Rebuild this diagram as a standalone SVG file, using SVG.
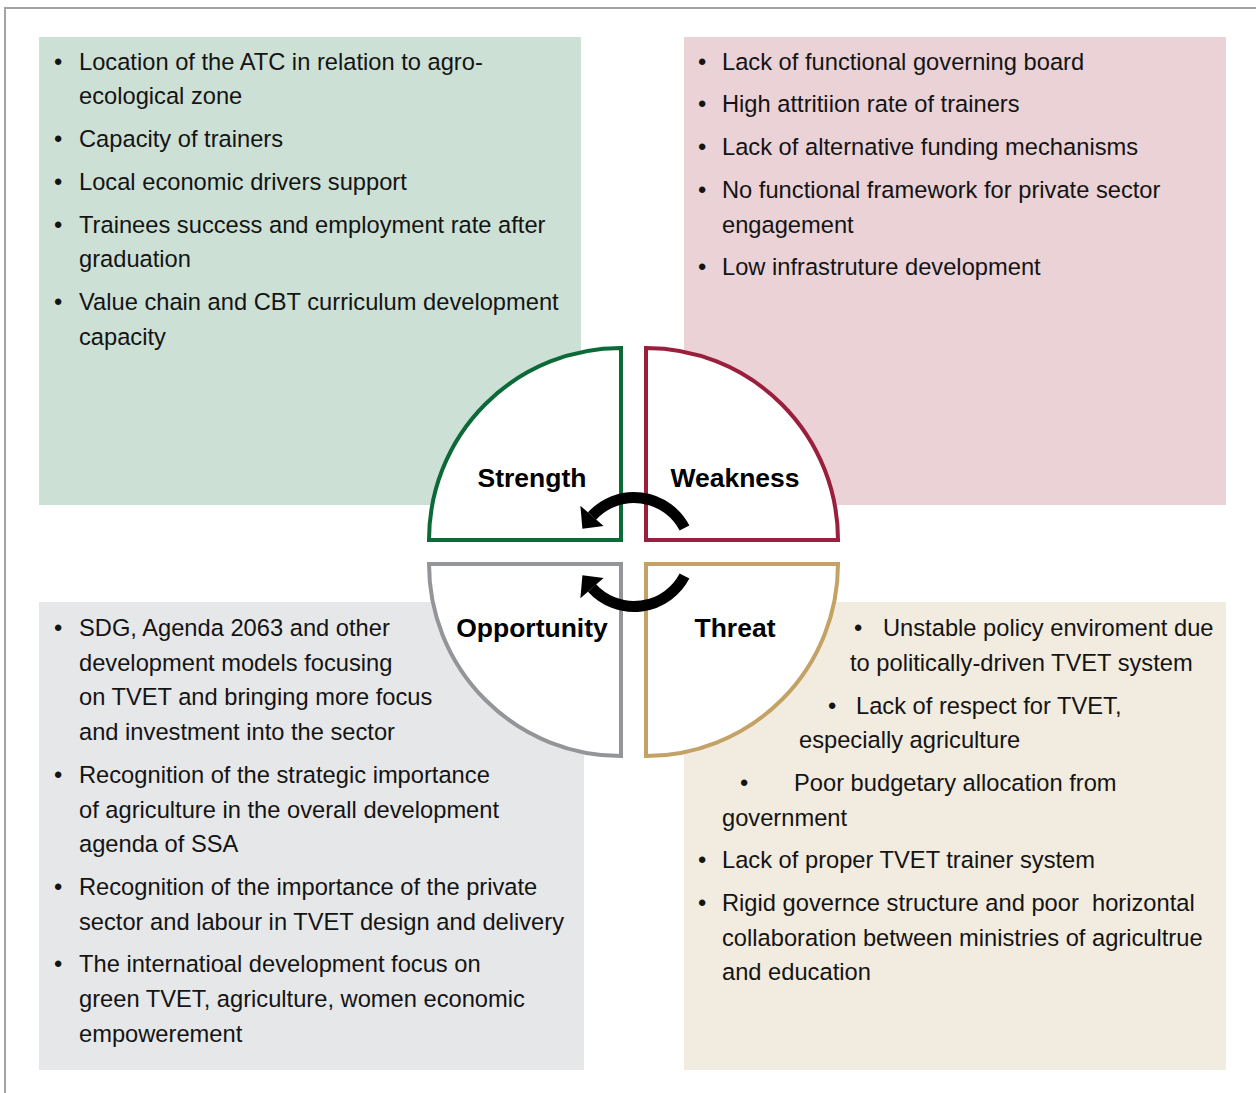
<svg xmlns="http://www.w3.org/2000/svg" width="1256" height="1093" viewBox="0 0 1256 1093">
<style>
  .t { font-family: "Liberation Sans", Arial, sans-serif; font-size: 23.7px; fill: #141414; }
  .lbl { font-family: "Liberation Sans", Arial, sans-serif; font-size: 26.5px; font-weight: bold; fill: #000; text-anchor: middle; }
  .q { fill: #ffffff; stroke-width: 4; stroke-linejoin: miter; }
  .arc { fill: none; stroke: #000; stroke-width: 11; }
</style>
<rect x="0" y="0" width="1256" height="1093" fill="#ffffff"/>
<g id="frame">
  <path d="M5 1093 V8 H1256" fill="none" stroke="#a3a3a3" stroke-width="2"/>
</g>

<g id="strength-box">
  <rect x="39" y="37" width="542" height="468" fill="#cde0d6"/>
  <text class="t" x="54" y="69.5">•</text><text class="t" x="79" y="69.5">Location of the ATC in relation to agro-</text>
  <text class="t" x="79" y="103.5">ecological zone</text>
  <text class="t" x="54" y="146.5">•</text><text class="t" x="79" y="146.5">Capacity of trainers</text>
  <text class="t" x="54" y="189.5">•</text><text class="t" x="79" y="189.5">Local economic drivers support</text>
  <text class="t" x="54" y="232.5">•</text><text class="t" x="79" y="232.5">Trainees success and employment rate after</text>
  <text class="t" x="79" y="266.5">graduation</text>
  <text class="t" x="54" y="309.5">•</text><text class="t" x="79" y="309.5">Value chain and CBT curriculum development</text>
  <text class="t" x="79" y="344.5">capacity</text>
</g>

<g id="weakness-box">
  <rect x="684" y="37" width="542" height="468" fill="#ead2d7"/>
  <text class="t" x="698" y="69.5">•</text><text class="t" x="722" y="69.5">Lack of functional governing board</text>
  <text class="t" x="698" y="111.5">•</text><text class="t" x="722" y="111.5">High attritiion rate of trainers</text>
  <text class="t" x="698" y="154.5">•</text><text class="t" x="722" y="154.5">Lack of alternative funding mechanisms</text>
  <text class="t" x="698" y="197.5">•</text><text class="t" x="722" y="197.5">No functional framework for private sector</text>
  <text class="t" x="722" y="232.5">engagement</text>
  <text class="t" x="698" y="274.5">•</text><text class="t" x="722" y="274.5">Low infrastruture development</text>
</g>

<g id="opportunity-box">
  <rect x="39" y="602" width="545" height="468" fill="#e6e7e8"/>
  <text class="t" x="54" y="635.5">•</text><text class="t" x="79" y="635.5">SDG, Agenda 2063 and other</text>
  <text class="t" x="79" y="670.5">development models focusing</text>
  <text class="t" x="79" y="704.5">on TVET and bringing more focus</text>
  <text class="t" x="79" y="739.5">and investment into the sector</text>
  <text class="t" x="54" y="782.5">•</text><text class="t" x="79" y="782.5">Recognition of the strategic importance</text>
  <text class="t" x="79" y="817.5">of agriculture in the overall development</text>
  <text class="t" x="79" y="851.5">agenda of SSA</text>
  <text class="t" x="54" y="894.5">•</text><text class="t" x="79" y="894.5">Recognition of the importance of the private</text>
  <text class="t" x="79" y="929.5">sector and labour in TVET design and delivery</text>
  <text class="t" x="54" y="971.5">•</text><text class="t" x="79" y="971.5">The internatioal development focus on</text>
  <text class="t" x="79" y="1006.5">green TVET, agriculture, women economic</text>
  <text class="t" x="79" y="1041.5">empowerement</text>
</g>

<g id="threat-box">
  <rect x="684" y="602" width="542" height="468" fill="#f2ebdf"/>
  <text class="t" x="854" y="635.5">•</text><text class="t" x="883" y="635.5">Unstable policy enviroment due</text>
  <text class="t" x="850" y="670.5">to politically-driven TVET system</text>
  <text class="t" x="828" y="713.5">•</text><text class="t" x="856" y="713.5">Lack of respect for TVET,</text>
  <text class="t" x="799" y="747.5">especially agriculture</text>
  <text class="t" x="740" y="790.5">•</text><text class="t" x="794" y="790.5">Poor budgetary allocation from</text>
  <text class="t" x="722" y="825.5">government</text>
  <text class="t" x="698" y="867.5">•</text><text class="t" x="722" y="867.5">Lack of proper TVET trainer system</text>
  <text class="t" x="698" y="910.5">•</text><text class="t" x="722" y="910.5" xml:space="preserve">Rigid governce structure and poor  horizontal</text>
  <text class="t" x="722" y="945.5">collaboration between ministries of agricultrue</text>
  <text class="t" x="722" y="979.5">and education</text>
</g>

<g id="strength">
  <path class="q" stroke="#0b6a37" d="M621 540 V348 A192 192 0 0 0 429 540 Z"/>
  <text class="lbl" x="532" y="486.5">Strength</text>
</g>
<g id="weakness">
  <path class="q" stroke="#9a1f3d" d="M646 540 V348 A192 192 0 0 1 838 540 Z"/>
  <text class="lbl" x="735" y="486.5">Weakness</text>
</g>
<g id="opportunity">
  <path class="q" stroke="#939598" d="M621 564 V756 A192 192 0 0 1 429 564 Z"/>
  <text class="lbl" x="532" y="636.5">Opportunity</text>
</g>
<g id="threat">
  <path class="q" stroke="#c4a265" d="M646 564 V756 A192 192 0 0 0 838 564 Z"/>
  <text class="lbl" x="735" y="636.5">Threat</text>
</g>

<g id="connectors">
  <path class="arc" d="M684.5 528 A57 57 0 0 0 592 516"/>
  <polygon points="582.4,528.8 580.4,505.8 603.6,526" fill="#000"/>
  <path class="arc" d="M684.5 576 A57 57 0 0 1 592 588"/>
  <polygon points="582.4,575.2 580.4,598.2 603.6,578" fill="#000"/>
</g>
</svg>
